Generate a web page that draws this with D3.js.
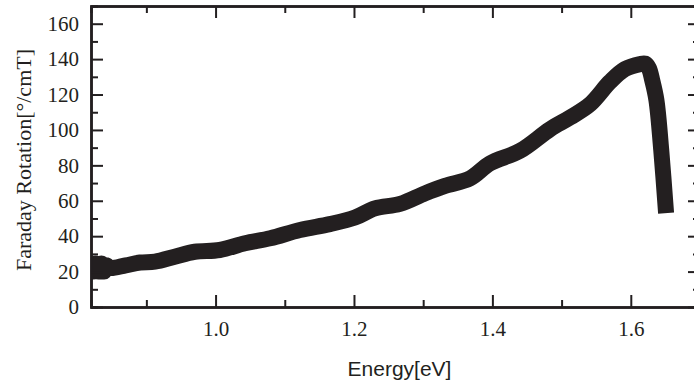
<!DOCTYPE html>
<html>
<head>
<meta charset="utf-8">
<script src="https://cdn.jsdelivr.net/npm/d3@7"></script>
<style>
  body { margin: 0; background: #fff; }
  svg { display: block; }
  .tick text { font-family: 'Liberation Serif', 'Times New Roman', serif; font-size: 21px; fill: #231f20; }
</style>
</head>
<body>
<svg id="graphic" width="694" height="385"></svg>
<script>
// photon energy (eV) and Faraday rotation (deg/cmT)
const energy = [0.820, 0.823, 0.827, 0.831, 0.835, 0.839, 0.842, 0.8475, 0.870, 0.891, 0.9125, 0.941,
  0.970, 1.006, 1.0425, 1.079, 1.122, 1.165, 1.2015, 1.2304, 1.2665, 1.3027, 1.3316, 1.3677,
  1.3966, 1.44, 1.4833, 1.5122, 1.5411, 1.570, 1.5917, 1.6134, 1.6206, 1.626, 1.631, 1.637,
  1.644, 1.651];
const rotation = [24.5, 20, 24.5, 20, 24.5, 20, 23.5, 22, 23.5, 25.1, 25.6, 28.4,
  31.2, 32.2, 36, 38.8, 43.5, 46.8, 50.5, 55.7, 58.2, 64.2, 68.4, 72.6,
  81.1, 88.2, 100.4, 107, 114.5, 127.2, 134.4, 137.2, 137.5, 135, 128, 116.9,
  88.6, 53];

const xDomain = [0.82, 1.7];
const yDomain = [0, 170];
const xMajor = [1.0, 1.2, 1.4, 1.6];
const xMinor = [0.9, 1.1, 1.3, 1.5, 1.7];
const yMajor = [0, 20, 40, 60, 80, 100, 120, 140, 160];
const yMinor = [10, 30, 50, 70, 90, 110, 130, 150];

const margins = { left: 91, top: 6, right: 700, bottom: 307 };
const ink = '#231f20';

const svg = d3.select('#graphic');

const xScale = d3.scaleLinear().domain(xDomain).range([margins.left, margins.right]);
const yScale = d3.scaleLinear().domain(yDomain).range([margins.bottom, margins.top]);

svg.append('clipPath')
    .attr('id', 'plot-area')
    .append('rect')
    .attr('x', margins.left)
    .attr('y', margins.top)
    .attr('width', margins.right - margins.left)
    .attr('height', margins.bottom - margins.top);

const pts = energy.map((e, i) => [e, rotation[i]]);

svg.append('path')
    .datum(pts)
    .attr('clip-path', 'url(#plot-area)')
    .attr('fill', 'none')
    .attr('stroke', ink)
    .attr('stroke-width', 16)
    .attr('stroke-linejoin', 'round')
    .attr('stroke-linecap', 'butt')
    .attr('d', d3.line()
        .x((d) => xScale(d[0]))
        .y((d) => yScale(d[1]))
        .curve(d3.curveCatmullRom.alpha(0.5)));

function styleAxis(g) {
  g.select('.domain').attr('stroke', ink).attr('stroke-width', 2.5);
  g.selectAll('.tick line').attr('stroke', ink).attr('stroke-width', 2);
  g.selectAll('.tick text').attr('fill', ink);
}

// major + minor ticks on all four sides, pointing inward
function addAxis(axisFn, scale, major, minor, transform, padding, fmt) {
  svg.append('g')
      .attr('transform', transform)
      .call(axisFn(scale).tickValues(minor).tickSize(-7).tickFormat(() => ''))
      .call(styleAxis);
  svg.append('g')
      .attr('transform', transform)
      .call(axisFn(scale)
          .tickValues(major)
          .tickSize(-12)
          .tickSizeOuter(0)
          .tickPadding(padding)
          .tickFormat(fmt || (() => '')))
      .call(styleAxis);
}

addAxis(d3.axisBottom, xScale, xMajor, xMinor, `translate(0,${margins.bottom})`, 14, d3.format('.1f'));
addAxis(d3.axisTop, xScale, xMajor, xMinor, `translate(0,${margins.top})`, 0);
addAxis(d3.axisLeft, yScale, yMajor, yMinor, `translate(${margins.left},0)`, 12, d3.format('d'));
addAxis(d3.axisRight, yScale, yMajor, yMinor, `translate(${margins.right},0)`, 0);

svg.append('text')
    .attr('x', (margins.left + margins.right) / 2 + 4)
    .attr('y', 376)
    .attr('text-anchor', 'middle')
    .style('font-family', "'Liberation Sans', Arial, sans-serif")
    .style('font-size', '21px')
    .style('fill', ink)
    .text('Energy[eV]');

svg.append('text')
    .attr('transform', 'translate(31,160) rotate(-90)')
    .attr('text-anchor', 'middle')
    .style('font-family', "'Liberation Serif', 'Times New Roman', serif")
    .style('font-size', '22px')
    .style('fill', ink)
    .text('Faraday Rotation[°/cmT]');
</script>
</body>
</html>
